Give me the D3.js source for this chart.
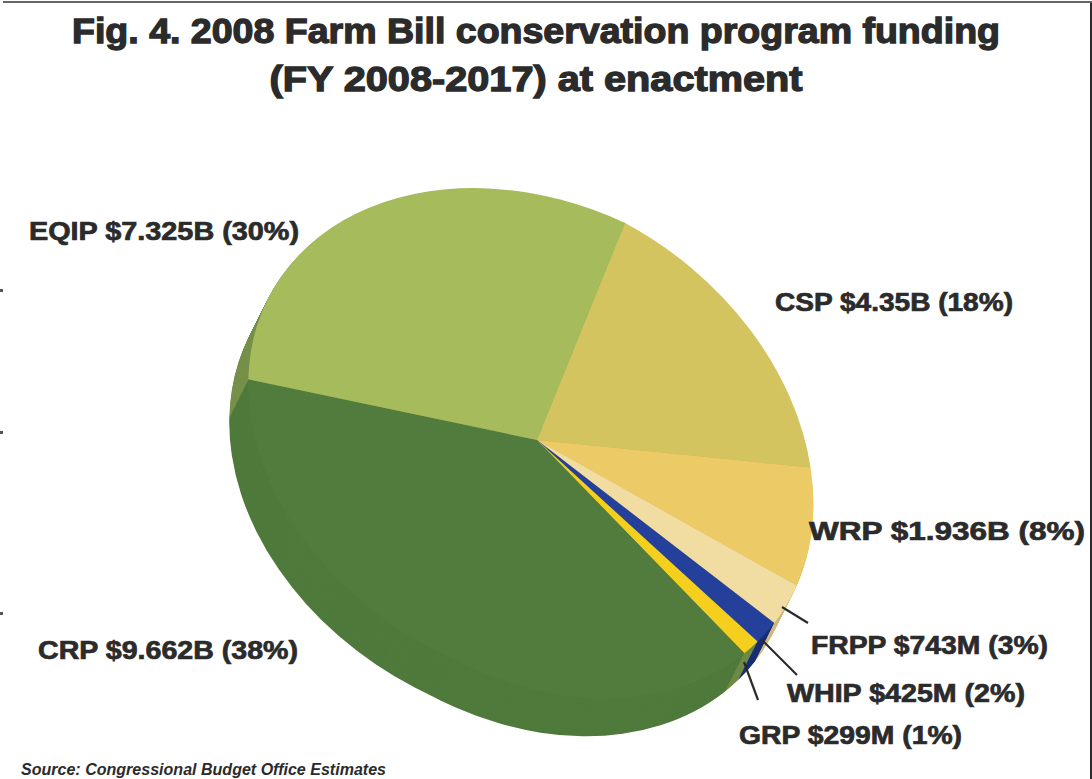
<!DOCTYPE html>
<html>
<head>
<meta charset="utf-8">
<script src="https://cdnjs.cloudflare.com/ajax/libs/d3/7.8.5/d3.min.js"></script>
<style>
  html, body { margin: 0; padding: 0; background: #fff; }
  svg { display: block; }
  text { font-family: "Liberation Sans", Arial, sans-serif; font-weight: 700; fill: #2b2b2b; }
</style>
</head>
<body>
<svg id="chart" width="1092" height="779"></svg>
<script>
// Funding in billions of dollars, clockwise from the EQIP/CSP boundary.
const programs = ["CSP", "WRP", "FRPP", "WHIP", "GRP", "CRP", "EQIP"];
const funding = [4.35, 1.936, 0.743, 0.425, 0.299, 9.662, 7.325];
const topColors = ["#d4c45f", "#ecca66", "#f1dda2", "#24409a", "#f5cf1e", "#527c3e", "#a5bb5c"];
const sideColors = ["#b3a64e", "#c9aa52", "#cdbb85", "#1a2f74", "#6f8a47", "#4f7a3c", "#76904a"];
const labelTexts = [
  "CSP $4.35B (18%)", "WRP $1.936B (8%)", "FRPP $743M (3%)", "WHIP $425M (2%)",
  "GRP $299M (1%)", "CRP $9.662B (38%)", "EQIP $7.325B (30%)"
];
const titleLines = ["Fig. 4. 2008 Farm Bill conservation program funding", "(FY 2008-2017) at enactment"];
const sourceLine = "Source: Congressional Budget Office Estimates";

const svg = d3.select("#chart");

// Page furniture: rule along the top edge, dark right edge, short marks on the left edge.
svg.append("rect").attr("x", 3).attr("y", 1).attr("width", 1089).attr("height", 2).attr("fill", "#666");
svg.append("rect").attr("x", 1090).attr("y", 3).attr("width", 2).attr("height", 776).attr("fill", "#2a2a2a");
svg.selectAll("rect.edge-mark").data([289, 431, 612]).join("rect")
  .attr("class", "edge-mark").attr("x", 0).attr("y", d => d).attr("width", 3).attr("height", 3).attr("fill", "#555");

// Title, fitted to the width of each line
const titleWidths = [928, 533];
svg.selectAll("text.title").data(titleLines).join("text")
  .attr("class", "title")
  .attr("x", 536)
  .attr("y", (d, i) => 43 + i * 48)
  .attr("text-anchor", "middle")
  .attr("font-size", 35)
  .attr("textLength", (d, i) => titleWidths[i])
  .attr("lengthAdjust", "spacingAndGlyphs")
  .attr("stroke", "#2b2b2b").attr("stroke-width", 1.3)
  .text(d => d);

// The tilted disc: a unit-radius pie carried onto the page by an affine frame.
// The perspective foreshortens the two halves differently, so each half of the
// disc gets its own 3 o'clock vector and is clipped along the 12-6 o'clock axis.
const radius = d3.scaleLinear().domain([0, 1]).range([0, 100]);
const pie = d3.pie().sort(null).value(d => d);
const arcs = pie(funding);
const arcPath = d3.arc().innerRadius(0).outerRadius(radius(1));

const cx = 537, cy = 440;
const spoke = { x: 88, y: -217 };         // where the 12 o'clock radius lands
const acrossRight = { x: 262, y: 140 };   // 3 o'clock vector for the right half
const acrossLeft = { x: 275, y: 128 };    // 3 o'clock vector for the left half
const frame = (across, dx, dy) => `translate(${cx + dx},${cy + dy}) scale(0.01) matrix(${across.x} ${across.y} ${-spoke.x} ${-spoke.y} 0 0)`;

const defs = svg.append("defs");
defs.append("clipPath").attr("id", "half-right").append("rect")
  .attr("x", -0.6).attr("y", -101).attr("width", 102).attr("height", 202);
defs.append("clipPath").attr("id", "half-left").append("rect")
  .attr("x", -101).attr("y", -101).attr("width", 101.6).attr("height", 202);

function drawDisc(parent, dx, dy, colors) {
  [[acrossRight, "half-right"], [acrossLeft, "half-left"]].forEach(([across, clip]) => {
    parent.append("g")
      .attr("transform", frame(across, dx, dy))
      .append("g")
      .attr("clip-path", `url(#${clip})`)
      .selectAll("path").data(arcs).join("path")
      .attr("d", arcPath)
      .attr("fill", (d, i) => colors[i]);
  });
}

// Rim of the disc, stacked from the deepest layer up to the top face.
const depth = { x: -19, y: 38 };
const layerCount = 40;
const rim = svg.append("g");
d3.range(layerCount, 0, -1).forEach(k => {
  const t = k / layerCount;
  drawDisc(rim, depth.x * t, depth.y * t, sideColors);
});

// Top face
drawDisc(svg.append("g"), 0, 0, topColors);

// Program labels: baseline start and fitted width
const labelAt = [
  [775, 311, 238], [809, 540, 276], [811, 654, 237], [787, 702, 238],
  [739, 744, 223], [38, 659, 260], [29, 240, 270]
];
svg.selectAll("text.label").data(labelTexts).join("text")
  .attr("class", "label")
  .attr("x", (d, i) => labelAt[i][0])
  .attr("y", (d, i) => labelAt[i][1])
  .attr("textLength", (d, i) => labelAt[i][2])
  .attr("lengthAdjust", "spacingAndGlyphs")
  .attr("font-size", 25)
  .attr("stroke", "#2b2b2b").attr("stroke-width", 0.7)
  .text(d => d);

// Leader lines for the three thin slices
const leaders = [
  [[782, 607], [808, 623]],
  [[762, 640], [797, 675]],
  [[744, 662], [758, 700]]
];
svg.selectAll("line.leader").data(leaders).join("line")
  .attr("class", "leader")
  .attr("x1", d => d[0][0]).attr("y1", d => d[0][1])
  .attr("x2", d => d[1][0]).attr("y2", d => d[1][1])
  .attr("stroke", "#2b2b2b").attr("stroke-width", 2.2);

// Source line
svg.append("text")
  .attr("x", 21).attr("y", 775)
  .attr("font-size", 16.5)
  .attr("font-style", "italic")
  .attr("textLength", 365)
  .attr("lengthAdjust", "spacingAndGlyphs")
  .attr("fill", "#333")
  .text(sourceLine);
</script>
</body>
</html>
